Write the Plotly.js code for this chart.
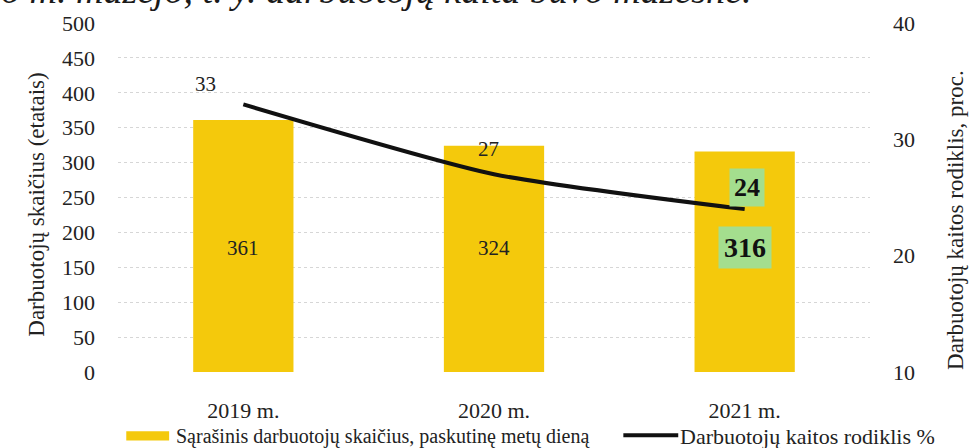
<!DOCTYPE html>
<html>
<head>
<meta charset="utf-8">
<script src="https://cdn.plot.ly/plotly-3.0.1.min.js"></script>
<style>html,body{margin:0;padding:0;background:#fff;}#chart{width:972px;height:448px;}</style>
</head>
<body>
<div id="chart"></div>
<script>
// ---- data ----
const categories = ['2019 m.', '2020 m.', '2021 m.'];
const headcount = [361, 324, 316];
const turnover = [33, 27, 24];
const leftTicks = [0, 50, 100, 150, 200, 250, 300, 350, 400, 450, 500];
const rightTicks = [10, 20, 30, 40];
const barName = 'Sąrašinis darbuotojų skaičius, paskutinę metų dieną';
const lineName = 'Darbuotojų kaitos rodiklis %';
const leftTitle = 'Darbuotojų skaičius (etatais)';
const rightTitle = 'Darbuotojų kaitos rodiklis, proc.';
const topText = 'o m. mažėjo, t. y. darbuotojų kaita buvo mažesnė.';
const highlightIndex = 2;

// ---- styles ----
const SERIF = 'Liberation Serif';
const YELLOW = '#F4C90C';
const GREEN = '#A4DE8E';
const TXT = '#222';
const lineLabelShift = [[-38, 20], [-6, 25], [2, 22]];

const traces = [
  {
    type: 'bar', x: categories, y: headcount, name: barName,
    marker: {color: YELLOW}, yaxis: 'y', hoverinfo: 'skip', showlegend: false
  },
  {
    type: 'scatter', mode: 'lines', x: categories, y: turnover, name: lineName,
    line: {color: '#111', width: 4, shape: 'spline', smoothing: 0.6},
    yaxis: 'y2', hoverinfo: 'skip', showlegend: false
  }
];

const annotations = [];
// bar value labels
headcount.forEach((v, i) => {
  const hi = i === highlightIndex;
  annotations.push({
    x: categories[i], y: 178, xref: 'x', yref: 'y', text: hi ? '<b>' + v + '</b>' : String(v),
    showarrow: false, font: {family: SERIF, size: hi ? 28 : 21, color: hi ? '#111' : TXT},
    bgcolor: hi ? GREEN : 'rgba(0,0,0,0)', borderpad: hi ? 5 : 0
  });
});
// line value labels
turnover.forEach((v, i) => {
  const hi = i === highlightIndex;
  annotations.push({
    x: categories[i], y: v, xref: 'x', yref: 'y2', text: hi ? '<b>' + v + '</b>' : String(v),
    showarrow: false, xshift: lineLabelShift[i][0], yshift: lineLabelShift[i][1],
    font: {family: SERIF, size: hi ? 26 : 21, color: hi ? '#111' : TXT},
    bgcolor: hi ? GREEN : 'rgba(0,0,0,0)', borderpad: hi ? 4 : 0
  });
});
// axis titles
annotations.push({
  xref: 'paper', yref: 'paper', x: -0.128, y: 0.48, text: leftTitle, textangle: -90,
  showarrow: false, font: {family: SERIF, size: 23, color: TXT}
});
annotations.push({
  xref: 'paper', yref: 'paper', x: 1.132, y: 0.435, text: rightTitle, textangle: -90,
  showarrow: false, font: {family: SERIF, size: 23, color: TXT}
});
// cut-off text at the top
annotations.push({
  xref: 'paper', yref: 'paper', x: -0.158, y: 1.03, xanchor: 'left', yanchor: 'bottom',
  text: topText, showarrow: false,
  font: {family: SERIF, size: 38, color: '#1a1a1a', style: 'italic'}
});
// manual legend texts
annotations.push({
  xref: 'paper', yref: 'paper', x: 0.074, y: -0.184, xanchor: 'left', yanchor: 'middle',
  text: barName, showarrow: false, font: {family: SERIF, size: 20, color: TXT}
});
annotations.push({
  xref: 'paper', yref: 'paper', x: 0.745, y: -0.184, xanchor: 'left', yanchor: 'middle',
  text: lineName, showarrow: false, font: {family: SERIF, size: 22, color: TXT}
});

const shapes = [
  {type: 'rect', xref: 'paper', yref: 'paper', x0: 0.011, x1: 0.068, y0: -0.196, y1: -0.17,
   fillcolor: YELLOW, line: {width: 0}},
  {type: 'line', xref: 'paper', yref: 'paper', x0: 0.672, x1: 0.745, y0: -0.181, y1: -0.181,
   line: {color: '#111', width: 4}}
];

const layout = {
  width: 972, height: 448,
  margin: {l: 118, r: 102, t: 23, b: 76, pad: 0},
  paper_bgcolor: '#fff', plot_bgcolor: '#fff',
  bargap: 0.6,
  showlegend: false,
  font: {family: SERIF, color: TXT, size: 21},
  xaxis: {
    type: 'category', tickfont: {family: SERIF, size: 22, color: TXT},
    showgrid: false, zeroline: false, showline: false, ticks: '', ticklabelstandoff: 23
  },
  yaxis: {
    range: [0, 500], tickvals: leftTicks, ticktext: leftTicks.map(String),
    tickfont: {family: SERIF, size: 22, color: TXT},
    showgrid: true, gridcolor: '#d6d6d6', griddash: 'dot', gridwidth: 1,
    zeroline: false, showline: false, ticks: '', ticklabelstandoff: 22
  },
  yaxis2: {
    range: [10, 40], tickvals: rightTicks, ticktext: rightTicks.map(String),
    overlaying: 'y', side: 'right',
    tickfont: {family: SERIF, size: 22, color: TXT},
    showgrid: false, zeroline: false, showline: false, ticks: '', ticklabelstandoff: 22
  },
  annotations: annotations,
  shapes: shapes
};

Plotly.newPlot('chart', traces, layout, {staticPlot: true, displayModeBar: false});
</script>
</body>
</html>
